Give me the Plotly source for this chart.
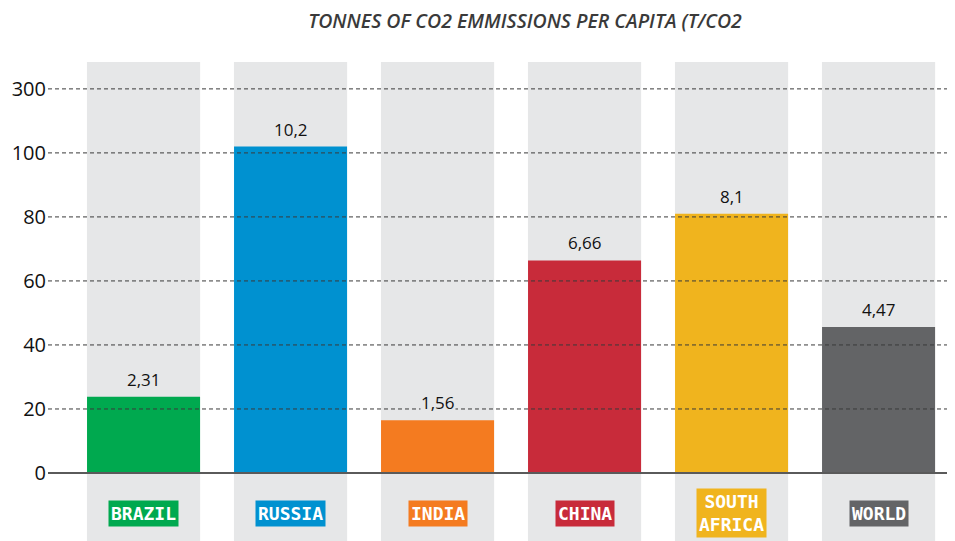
import plotly.graph_objects as go

categories = ["BRAZIL", "RUSSIA", "INDIA", "CHINA", "SOUTH AFRICA", "WORLD"]
category_labels = ["BRAZIL", "RUSSIA", "INDIA", "CHINA", "SOUTH<br>AFRICA", "WORLD"]
bar_values = [23.8, 102.0, 16.5, 66.4, 81.0, 45.6]
value_labels = ["2,31", "10,2", "1,56", "6,66", "8,1", "4,47"]
colors = ["#00a94f", "#0091d0", "#f47b20", "#c82b3a", "#f0b41e", "#636466"]
tick_vals = [0, 20, 40, 60, 80, 100, 120]
tick_text = ["0", "20", "40", "60", "80", "100", "300"]
title_text = "TONNES OF CO2 EMMISSIONS PER CAPITA (T/CO2"

BAND = "#e6e7e8"
YMIN, YMAX = -21.25, 128.4
OFF = 8  # page body margin offset

fig = go.Figure()
fig.add_trace(go.Bar(
    x=categories, y=bar_values, marker_color=colors, marker_line_width=0,
    hoverinfo="skip", showlegend=False,
))

half = 0.385
for i, c in enumerate(categories):
    fig.add_shape(type="rect", xref="x", yref="paper", x0=i - half, x1=i + half,
                  y0=0, y1=1, fillcolor=BAND, line_width=0, layer="below")

for v in tick_vals[1:]:
    fig.add_shape(type="line", xref="paper", yref="y", x0=0, x1=1, y0=v, y1=v,
                  line=dict(color="#3a3a3a", width=1, dash="4px,3px"), layer="above")
fig.add_shape(type="line", xref="paper", yref="y", x0=0, x1=1, y0=0, y1=0,
              line=dict(color="#5a5a5a", width=2), layer="above")

for c, v, lab in zip(categories, bar_values, value_labels):
    fig.add_annotation(x=c, y=v, text=lab, showarrow=False, yanchor="bottom", yshift=5,
                       font=dict(family="Open Sans", size=17, color="#111", weight=500),
                       bgcolor=BAND, borderpad=0)

for c, lab, col in zip(categories, category_labels, colors):
    fig.add_annotation(x=c, y=-12.6, text="<b>" + lab + "</b>", showarrow=False,
                       font=dict(family="DejaVu Sans Mono", size=18, color="white"),
                       bgcolor=col, borderpad=2)

fig.update_layout(
    width=955, height=541,
    margin=dict(l=48 - OFF, r=OFF, t=62 - OFF, b=OFF, autoexpand=False),
    plot_bgcolor="white", paper_bgcolor="white",
    bargap=0.231,
    title=dict(text="<i>" + title_text + "</i>", x=(525 - OFF) / 955, xanchor="center",
               y=1 - (21 - OFF) / 541, yanchor="middle", automargin=False,
               font=dict(family="Open Sans", size=19.5, color="#3a3a3a", weight=600)),
    xaxis=dict(range=[-0.65, 5.52], showticklabels=False, showgrid=False,
               zeroline=False, showline=False, ticks="", automargin=False),
    yaxis=dict(range=[YMIN, YMAX], tickvals=tick_vals, ticktext=tick_text,
               showgrid=False, zeroline=False, showline=False, ticks="",
               automargin=False,
               tickfont=dict(family="Open Sans", size=20, color="#111"),
               ticklabelstandoff=1),
)

fig.write_html("out.html")
